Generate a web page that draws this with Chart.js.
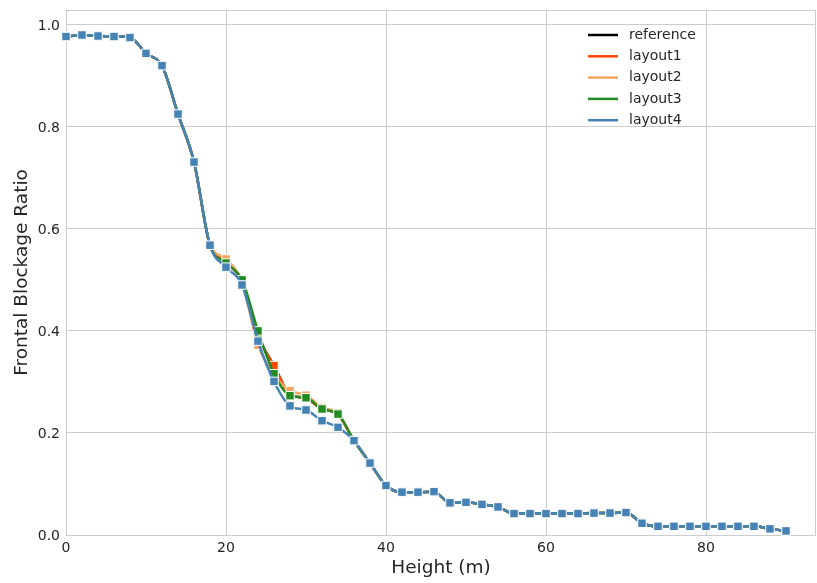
<!DOCTYPE html>
<html>
<head>
<meta charset="utf-8">
<script src="https://cdn.jsdelivr.net/npm/chart.js@4"></script>
<style>
  html, body { margin: 0; padding: 0; background: #ffffff; }
  #wrap { width: 817px; height: 583px; }
</style>
</head>
<body>
<div id="wrap"><canvas id="chart" width="817" height="583"></canvas></div>
<script>
// Heights (m), one point every 2 m
const heights = [0, 2, 4, 6, 8, 10, 12, 14, 16, 18, 20, 22, 24, 26, 28, 30, 32, 34, 36, 38,
    40, 42, 44, 46, 48, 50, 52, 54, 56, 58, 60, 62, 64, 66, 68, 70, 72, 74, 76, 78,
    80, 82, 84, 86, 88, 90];

// Frontal blockage ratio per series
const referenceRatio = [0.977, 0.980, 0.978, 0.977, 0.975, 0.944, 0.920, 0.825, 0.731, 0.568,
    0.535, 0.497, 0.390, 0.332, 0.276, 0.268, 0.247, 0.236, 0.185, 0.141,
    0.097, 0.084, 0.084, 0.085, 0.063, 0.064, 0.060, 0.055, 0.042, 0.042,
    0.042, 0.042, 0.042, 0.043, 0.043, 0.044, 0.023, 0.017, 0.017, 0.017,
    0.017, 0.017, 0.017, 0.017, 0.012, 0.008];
const layout1Ratio = [0.977, 0.980, 0.978, 0.977, 0.975, 0.944, 0.920, 0.825, 0.731, 0.568,
    0.535, 0.497, 0.390, 0.332, 0.276, 0.268, 0.247, 0.236, 0.185, 0.141,
    0.097, 0.084, 0.084, 0.085, 0.063, 0.064, 0.060, 0.055, 0.042, 0.042,
    0.042, 0.042, 0.042, 0.043, 0.043, 0.044, 0.023, 0.017, 0.017, 0.017,
    0.017, 0.017, 0.017, 0.017, 0.012, 0.008];
const layout2Ratio = [0.977, 0.980, 0.978, 0.977, 0.975, 0.944, 0.920, 0.825, 0.731, 0.570,
    0.541, 0.495, 0.372, 0.315, 0.283, 0.274, 0.250, 0.239, 0.185, 0.141,
    0.097, 0.084, 0.084, 0.085, 0.063, 0.064, 0.060, 0.055, 0.042, 0.042,
    0.042, 0.042, 0.042, 0.043, 0.043, 0.044, 0.023, 0.017, 0.017, 0.017,
    0.017, 0.017, 0.017, 0.017, 0.012, 0.008];
const layout3Ratio = [0.977, 0.980, 0.978, 0.977, 0.975, 0.944, 0.920, 0.825, 0.731, 0.568,
    0.533, 0.500, 0.400, 0.316, 0.273, 0.269, 0.247, 0.237, 0.185, 0.141,
    0.097, 0.084, 0.084, 0.085, 0.063, 0.064, 0.060, 0.055, 0.042, 0.042,
    0.042, 0.042, 0.042, 0.043, 0.043, 0.044, 0.023, 0.017, 0.017, 0.017,
    0.017, 0.017, 0.017, 0.017, 0.012, 0.008];
const layout4Ratio = [0.977, 0.980, 0.978, 0.977, 0.975, 0.944, 0.920, 0.825, 0.731, 0.568,
    0.525, 0.490, 0.380, 0.301, 0.253, 0.245, 0.224, 0.211, 0.185, 0.141,
    0.097, 0.084, 0.084, 0.085, 0.063, 0.064, 0.060, 0.055, 0.042, 0.042,
    0.042, 0.042, 0.042, 0.043, 0.043, 0.044, 0.023, 0.017, 0.017, 0.017,
    0.017, 0.017, 0.017, 0.017, 0.012, 0.008];

const seriesLabels = ['reference', 'layout1', 'layout2', 'layout3', 'layout4'];
const seriesColors = ['#000000', '#ff4500', '#f4a460', '#228b22', '#4682b4'];
const seriesValues = [referenceRatio, layout1Ratio, layout2Ratio, layout3Ratio, layout4Ratio];

const xTicks = [0, 20, 40, 60, 80];
const yTicks = [0, 0.2, 0.4, 0.6, 0.8, 1.0];

const FONT = "'DejaVu Sans', sans-serif";
const TEXT = '#262626';
const GRID = '#cccccc';

// markers are allowed to overhang the plot edge, so no extra layout padding for them
Chart.registry.getController('line').prototype.getMaxOverflow = function () { return 0; };

const datasets = seriesLabels.map((label, i) => ({
    label: label,
    data: heights.map((h, j) => ({ x: h, y: seriesValues[i][j] })),
    borderColor: seriesColors[i],
    backgroundColor: seriesColors[i],
    borderWidth: 2.5,
    pointStyle: 'rect',
    pointRadius: 6,
    pointBorderColor: '#ffffff',
    pointBorderWidth: 1,
    pointBackgroundColor: seriesColors[i],
    cubicInterpolationMode: 'monotone',
    clip: false,
    order: seriesLabels.length - 1 - i  // later series drawn on top
}));

// Frame around plot area + legend in upper right (no frame)
const framePlugin = {
    id: 'frame',
    beforeDatasetsDraw(chart) {
        const a = chart.chartArea, ctx = chart.ctx;
        ctx.save();
        ctx.strokeStyle = GRID;
        ctx.lineWidth = 1;
        ctx.strokeRect(a.left + 0.5, a.top + 0.5, a.right - a.left - 1, a.bottom - a.top);
        ctx.restore();
    },
    afterDraw(chart) {
        const ctx = chart.ctx;
        ctx.save();
        ctx.font = '14px ' + FONT;
        ctx.textBaseline = 'middle';
        ctx.textAlign = 'left';
        seriesLabels.forEach((label, i) => {
            const y = 35 + i * 21.3;
            ctx.strokeStyle = seriesColors[i];
            ctx.lineWidth = 2.5;
            ctx.beginPath();
            ctx.moveTo(588, y);
            ctx.lineTo(618, y);
            ctx.stroke();
            ctx.fillStyle = TEXT;
            ctx.fillText(label, 629, y);
        });
        ctx.restore();
    }
};

new Chart(document.getElementById('chart'), {
    type: 'line',
    data: { datasets: datasets },
    options: {
        responsive: false,
        animation: false,
        layout: { padding: { top: 10, right: 1, left: 0, bottom: 0 } },
        plugins: {
            legend: { display: false },
            tooltip: { enabled: false }
        },
        scales: {
            x: {
                type: 'linear',
                min: 0,
                max: 93.75,
                afterBuildTicks: (s) => { s.ticks = xTicks.map(v => ({ value: v })); },
                afterFit: (s) => { s.height = 48; s.paddingLeft = 0; s.paddingRight = 0; },
                ticks: {
                    color: TEXT,
                    font: { family: FONT, size: 14 },
                    padding: 5,
                    maxRotation: 0,
                    callback: (v) => String(v)
                },
                grid: { color: GRID, lineWidth: 1, drawTicks: false },
                border: { display: false },
                title: {
                    display: true,
                    text: 'Height (m)',
                    color: TEXT,
                    font: { family: FONT, size: 18.5 },
                    padding: { top: 0, bottom: 4 }
                }
            },
            y: {
                type: 'linear',
                min: 0,
                max: 1.029,
                afterBuildTicks: (s) => { s.ticks = yTicks.map(v => ({ value: v })); },
                afterFit: (s) => { s.width = 66; s.paddingTop = 0; s.paddingBottom = 0; },
                ticks: {
                    color: TEXT,
                    font: { family: FONT, size: 14 },
                    padding: 6,
                    labelOffset: 1.5,
                    callback: (v) => Number(v).toFixed(1)
                },
                grid: { color: GRID, lineWidth: 1, drawTicks: false },
                border: { display: false },
                title: {
                    display: true,
                    text: 'Frontal Blockage Ratio',
                    color: TEXT,
                    font: { family: FONT, size: 18.5 },
                    padding: { top: 11, bottom: 0 }
                }
            }
        }
    },
    plugins: [framePlugin]
});
</script>
</body>
</html>
